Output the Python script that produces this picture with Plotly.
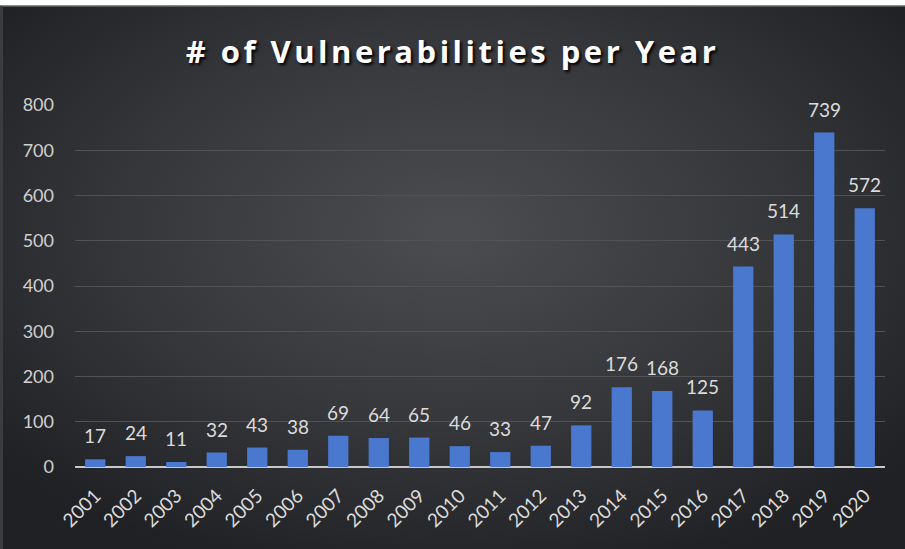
import plotly.graph_objects as go
import base64

years = ["2001", "2002", "2003", "2004", "2005", "2006", "2007", "2008", "2009", "2010",
         "2011", "2012", "2013", "2014", "2015", "2016", "2017", "2018", "2019", "2020"]
counts = [17, 24, 11, 32, 43, 38, 69, 64, 65, 46, 33, 47, 92, 176, 168, 125, 443, 514, 739, 572]
y_ticks = [0, 100, 200, 300, 400, 500, 600, 700, 800]

W, H = 905, 549
L, R, T, B = 75, 20, 105, 82
pw, ph = W - L - R, H - T - B

svg = f'''<svg xmlns="http://www.w3.org/2000/svg" width="{W}" height="{H}" viewBox="0 0 {W} {H}">
<defs>
<radialGradient id="g" cx="0.5" cy="0.42" r="0.65" gradientUnits="objectBoundingBox">
<stop offset="0" stop-color="#4c4d51"/>
<stop offset="0.55" stop-color="#36373b"/>
<stop offset="1" stop-color="#202124"/>
</radialGradient>
</defs>
<rect x="0" y="0" width="{W}" height="{H}" fill="url(#g)"/>
<rect x="0" y="0" width="{W}" height="5" fill="#ffffff"/>
<rect x="0" y="5" width="{W}" height="1.5" fill="#8a8a8a"/>
<rect x="0" y="6" width="3" height="{H}" fill="#3c3c3f"/>
</svg>'''
src = "data:image/svg+xml;base64," + base64.b64encode(svg.encode()).decode()

fig = go.Figure()
fig.add_trace(go.Bar(
    x=years, y=counts,
    marker=dict(color="#4a78cf", line=dict(width=0)),
    hoverinfo="x+y",
))

annotations = [
    dict(x=i, y=c, xref="x", yref="y", text=str(c), showarrow=False,
         yanchor="bottom", yshift=10,
         font=dict(family="Lato", size=19, color="#dcdcdc"))
    for i, c in enumerate(counts)
]

fig.update_layout(
    width=W, height=H,
    margin=dict(l=L, r=R, t=T, b=B),
    paper_bgcolor="#2a2b2e",
    plot_bgcolor="rgba(0,0,0,0)",
    bargap=0.5,
    showlegend=False,
    annotations=annotations,
    title=dict(
        text='<span style="letter-spacing:3.5px">'
             + "# of Vulnerabilities per Year" + "</span>",
        x=0.5, xanchor="center", xref="container",
        y=1 - 52 / H, yanchor="middle",
        font=dict(family="Open Sans", size=31, color="#ffffff", weight="bold",
                  shadow="2px 2px 3px #000000"),
    ),
    images=[dict(
        source=src, xref="paper", yref="paper",
        x=-L / pw, y=1 + T / ph, sizex=W / pw, sizey=H / ph,
        xanchor="left", yanchor="top", sizing="stretch", layer="below",
    )],
    xaxis=dict(
        type="category",
        range=[-0.5, len(years) - 0.5],
        tickangle=-45,
        tickfont=dict(family="Lato", size=19, color="#dcdcdc"),
        showgrid=False,
        showline=False,
        ticks="",
        ticklabelstandoff=13,
    ),
    yaxis=dict(
        range=[0, 800],
        tickvals=y_ticks,
        tickfont=dict(family="Lato", size=18, color="#d0d0d0"),
        gridcolor="#515256",
        gridwidth=1,
        zeroline=True,
        zerolinecolor="#c8c8c8",
        zerolinewidth=2,
        showline=False,
        ticks="",
        ticklabelstandoff=20,
    ),
)

fig.write_html("out.html")
